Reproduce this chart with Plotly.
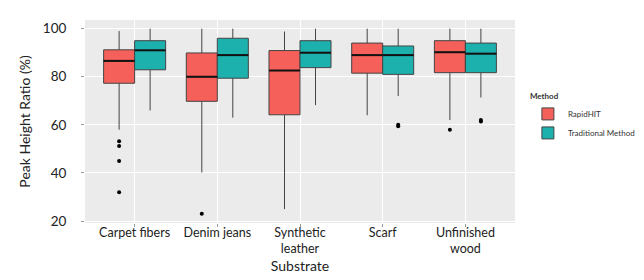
import plotly.graph_objects as go

categories = ["Carpet fibers", "Denim jeans", "Synthetic<br>leather", "Scarf", "Unfinished<br>wood"]
methods = ["RapidHIT", "Traditional Method"]

rapid_q1 = [77.3, 69.8, 64.2, 81.5, 81.7]
rapid_med = [86.6, 80.0, 82.6, 89.0, 90.2]
rapid_q3 = [91.2, 89.9, 90.9, 94.0, 95.0]
rapid_lo = [58.0, 40.2, 25.0, 64.0, 62.0]
rapid_hi = [99.0, 100.0, 98.8, 100.0, 100.0]
rapid_out_cat = [0, 0, 0, 0, 1, 4]
rapid_out_val = [53.2, 51.2, 45.0, 32.0, 23.0, 58.0]

trad_q1 = [82.9, 79.4, 83.8, 81.0, 81.7]
trad_med = [91.0, 89.0, 90.0, 89.0, 89.6]
trad_q3 = [95.0, 96.0, 95.0, 92.8, 94.0]
trad_lo = [66.0, 63.0, 68.2, 72.0, 71.4]
trad_hi = [100.0, 100.0, 100.0, 100.0, 100.0]
trad_out_cat = [3, 3, 4, 4]
trad_out_val = [59.4, 60.0, 61.4, 62.0]

colors = ["#F5605A", "#1DB1AE"]
dodge = 0.1875
bw = 0.375

fig = go.Figure()
series = [
    (rapid_q1, rapid_med, rapid_q3, rapid_lo, rapid_hi, rapid_out_cat, rapid_out_val),
    (trad_q1, trad_med, trad_q3, trad_lo, trad_hi, trad_out_cat, trad_out_val),
]
for k, (q1, med, q3, lo, hi, oc, ov) in enumerate(series):
    off = -dodge if k == 0 else dodge
    xs = [i + 1 + off for i in range(len(categories))]
    fig.add_trace(go.Box(
        x=xs, q1=q1, median=med, q3=q3, lowerfence=lo, upperfence=hi,
        name=methods[k], fillcolor=colors[k],
        line=dict(color="#444444", width=1),
        whiskerwidth=0, width=bw, boxpoints=False,
        legendgroup=methods[k],
    ))
    # thicker median segments, as in ggplot
    mx, my = [], []
    for x0, m in zip(xs, med):
        mx += [x0 - bw / 2, x0 + bw / 2, None]
        my += [m, m, None]
    fig.add_trace(go.Scatter(
        x=mx, y=my, mode="lines", line=dict(color="#111111", width=2),
        showlegend=False, hoverinfo="skip", legendgroup=methods[k],
    ))
    fig.add_trace(go.Scatter(
        x=[c + 1 + off for c in oc], y=ov, mode="markers",
        marker=dict(color="black", size=4),
        showlegend=False, hoverinfo="y", legendgroup=methods[k],
    ))

font = "Lato"
fig.update_layout(
    width=644, height=280,
    margin=dict(l=77, r=110, t=12, b=65),
    paper_bgcolor="white", plot_bgcolor="#EBEBEB",
    font=dict(family=font, color="#222222", size=12),
    showlegend=True,
    legend=dict(
        title=dict(text="<b>Method</b>", font=dict(size=8, color="#333333")),
        font=dict(size=8, color="#333333"),
        x=1.03, xanchor="left", y=0.66, yanchor="top",
        tracegroupgap=0, bgcolor="rgba(0,0,0,0)",
    ),
    xaxis=dict(
        range=[0.4, 5.6], tickvals=[1, 2, 3, 4, 5], ticktext=categories,
        showgrid=True, gridcolor="white", gridwidth=1, zeroline=False,
        ticks="outside", ticklen=3, tickcolor="#999999",
        tickfont=dict(size=12.5), ticklabelstandoff=-5,
        title=dict(text="Substrate", font=dict(size=14), standoff=5),
    ),
    yaxis=dict(
        range=[19.2, 103.6], tickvals=[20, 40, 60, 80, 100],
        showgrid=True, gridcolor="white", gridwidth=1, zeroline=False,
        ticks="outside", ticklen=3, tickcolor="#999999",
        tickfont=dict(size=13.5), ticklabelstandoff=12,
        title=dict(text="Peak Height Ratio (%)", font=dict(size=14), standoff=8),
    ),
)

fig.write_html("out.html")
